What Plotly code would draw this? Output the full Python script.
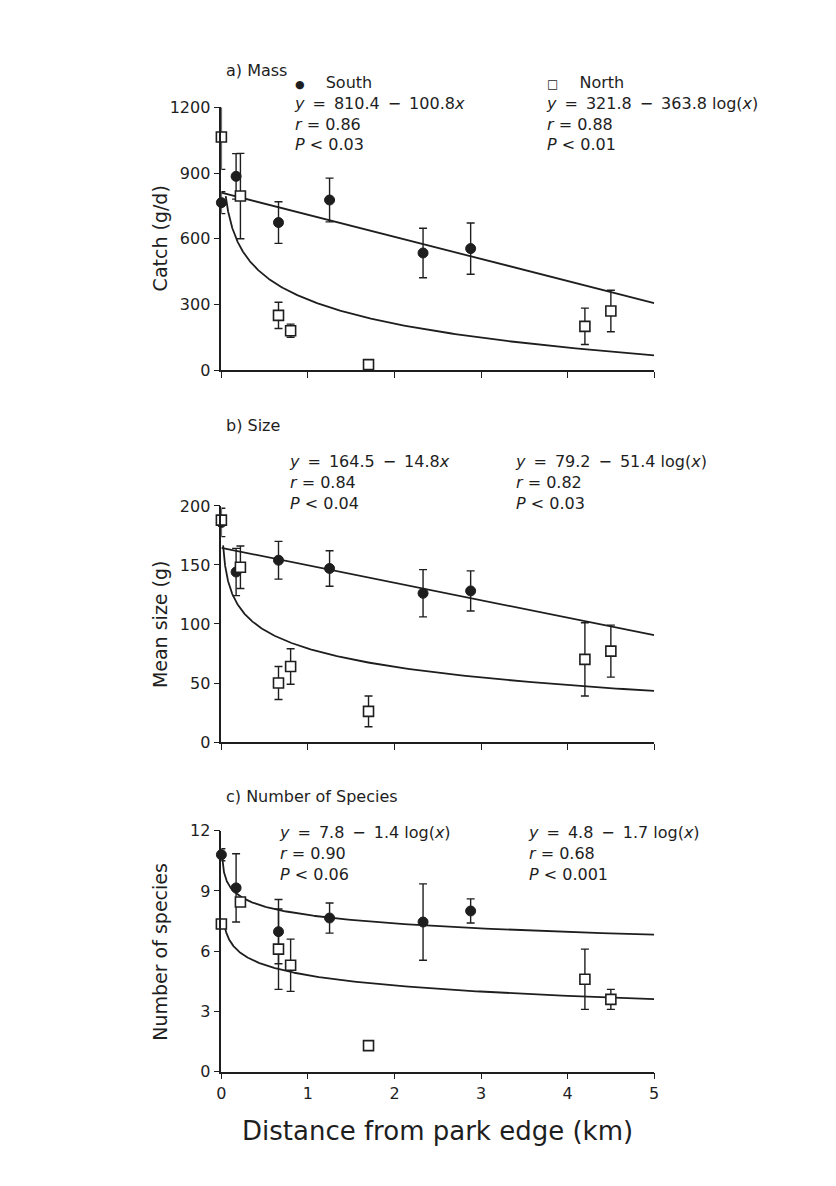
import numpy as np
import plotly.graph_objects as go

# ---- data -------------------------------------------------------------
south_x = [0.0, 0.17, 0.66, 1.25, 2.33, 2.88]
north_x = [0.0, 0.22, 0.66, 0.80, 1.70, 4.20, 4.50]

# a) Mass: catch (g/d)
mass_south = [765, 885, 674, 777, 535, 555]
mass_south_err = [50, 104, 95, 100, 113, 117]
mass_north = [1065, 795, 250, 180, 25, 200, 270]
mass_north_err = [148, 195, 60, 30, 0, 83, 95]

# b) Size: mean size (g)
size_south = [186, 144, 154, 147, 126, 128]
size_south_err = [12, 20, 16, 15, 20, 17]
size_north = [188, 148, 50, 64, 26, 70, 77]
size_north_err = [0, 18, 14, 15, 13, 31, 22]

# c) Number of species
spp_south = [10.8, 9.15, 6.97, 7.65, 7.45, 8.0]
spp_south_err = [0.3, 1.7, 1.6, 0.75, 1.9, 0.6]
spp_north = [7.35, 8.45, 6.1, 5.3, 1.3, 4.6, 3.6]
spp_north_err = [0, 0, 2.0, 1.3, 0, 1.5, 0.5]

# regression fits: (intercept, slope, form, first x of the drawn curve)
fit_mass_south = (810.4, -100.8, "lin", 0.0)
fit_mass_north = (321.8, -363.8, "log", 0.05)
fit_size_south = (164.5, -14.8, "lin", 0.0)
fit_size_north = (79.2, -51.4, "log", 0.02)
fit_spp_south = (7.8, -1.4, "log", 0.008)
fit_spp_north = (4.8, -1.7, "log", 0.03)

x_ticks = [0, 1, 2, 3, 4, 5]
mass_ticks = [0, 300, 600, 900, 1200]
size_ticks = [0, 50, 100, 150, 200]
spp_ticks = [0, 3, 6, 9, 12]

# ---- figure -----------------------------------------------------------
W, H = 836, 1186
FONT = "DejaVu Sans"
INK = "#1e1e1e"


def px(x):
    return x / W


def py(y):
    return 1 - y / H


def fit_curve(fit):
    a, b, form, x0 = fit
    if form == "lin":
        xs = np.linspace(x0, 5, 50)
        return xs, a + b * xs
    xs = np.geomspace(x0, 5, 300)
    return xs, a + b * np.log10(xs)


fig = go.Figure()

panels = [
    ("x", "y", mass_south, mass_south_err, mass_north, mass_north_err,
     fit_mass_south, fit_mass_north),
    ("x2", "y2", size_south, size_south_err, size_north, size_north_err,
     fit_size_south, fit_size_north),
    ("x3", "y3", spp_south, spp_south_err, spp_north, spp_north_err,
     fit_spp_south, fit_spp_north),
]

for xa, ya, s_y, s_e, n_y, n_e, f_s, f_n in panels:
    for fit in (f_s, f_n):
        fx, fy = fit_curve(fit)
        fig.add_trace(go.Scatter(
            x=fx, y=fy, mode="lines", xaxis=xa, yaxis=ya,
            line=dict(color=INK, width=1.8), showlegend=False,
            hoverinfo="skip", cliponaxis=False))
    fig.add_trace(go.Scatter(
        x=south_x, y=s_y, mode="markers", xaxis=xa, yaxis=ya,
        marker=dict(symbol="circle", size=10, color=INK,
                    line=dict(color=INK, width=1)),
        error_y=dict(type="data", array=s_e, visible=True, color=INK,
                     thickness=1.4, width=4),
        showlegend=False, cliponaxis=False))
    fig.add_trace(go.Scatter(
        x=north_x, y=n_y, mode="markers", xaxis=xa, yaxis=ya,
        marker=dict(symbol="square", size=10, color="white",
                    line=dict(color=INK, width=1.6)),
        error_y=dict(type="data", array=n_e, visible=True, color=INK,
                     thickness=1.4, width=4),
        showlegend=False, cliponaxis=False))

x_dom = [px(219), px(657)]
axis_style = dict(showline=True, linecolor=INK, linewidth=1.6,
                  ticks="outside", ticklen=6, tickwidth=1.4, tickcolor=INK,
                  showgrid=False, zeroline=False,
                  tickfont=dict(family=FONT, size=16, color=INK))

fig.update_layout(
    width=W, height=H, autosize=False,
    margin=dict(l=0, r=0, t=0, b=0),
    paper_bgcolor="white", plot_bgcolor="rgba(0,0,0,0)",
    font=dict(family=FONT, color=INK),
    xaxis=dict(domain=x_dom, range=[0, 5], tickvals=x_ticks,
               showticklabels=False, anchor="y", **axis_style),
    yaxis=dict(domain=[py(367), py(100)], range=[0, 1200],
               tickvals=mass_ticks, anchor="x", **axis_style),
    xaxis2=dict(domain=x_dom, range=[0, 5], tickvals=x_ticks,
                showticklabels=False, anchor="y2", **axis_style),
    yaxis2=dict(domain=[py(745), py(505)], range=[0, 200],
                tickvals=size_ticks, anchor="x2", **axis_style),
    xaxis3=dict(domain=x_dom, range=[0, 5], tickvals=x_ticks,
                anchor="y3", **axis_style),
    yaxis3=dict(domain=[py(1080), py(835)], range=[0, 12],
                tickvals=spp_ticks, anchor="x3", **axis_style),
)

SP = "\u2002"  # en space for the wider maths spacing
DOT = "<span style='font-size:11px'>●</span>"
BOX = "<span style='font-size:12px'>□</span>"


def eq(intercept, slope_term):
    return f"<i>y</i>{SP}={SP}{intercept}{SP}−{SP}{slope_term}"


blocks = [
    # (left x, centre y, lines)
    (290, 106, [f"{DOT}\u2003 South", eq("810.4", "100.8<i>x</i>"),
                "<i>r</i> = 0.86", "<i>P</i> &lt; 0.03"]),
    (546, 106, [f"{BOX}\u2003 North", eq("321.8", "363.8 log(<i>x</i>)"),
                "<i>r</i> = 0.88", "<i>P</i> &lt; 0.01"]),
    (285, 481, [eq("164.5", "14.8<i>x</i>"),
                "<i>r</i> = 0.84", "<i>P</i> &lt; 0.04"]),
    (514, 481, [eq("79.2", "51.4 log(<i>x</i>)"),
                "<i>r</i> = 0.82", "<i>P</i> &lt; 0.03"]),
    (275, 858, [eq("7.8", "1.4 log(<i>x</i>)"),
                "<i>r</i> = 0.90", "<i>P</i> &lt; 0.06"]),
    (527, 858, [eq("4.8", "1.7 log(<i>x</i>)"),
                "<i>r</i> = 0.68", "<i>P</i> &lt; 0.001"]),
]

for x, y, lines in blocks:
    fig.add_annotation(x=px(x), y=py(y), xref="paper", yref="paper",
                       text="<br>".join(lines), showarrow=False,
                       xanchor="left", yanchor="middle", align="left",
                       font=dict(family=FONT, size=16, color=INK))

# panel titles
for yc, text in [(62, "a) Mass"), (423, "b) Size"),
                 (800, "c) Number of Species")]:
    fig.add_annotation(x=px(222), y=py(yc), xref="paper", yref="paper",
                       text=text, showarrow=False, xanchor="left",
                       yanchor="middle",
                       font=dict(family=FONT, size=16, color=INK))

# axis titles
for yc, text in [(233, "Catch (g/d)"), (625, "Mean size (g)"),
                 (958, "Number of species")]:
    fig.add_annotation(x=px(157), y=py(yc), xref="paper", yref="paper",
                       text=text, textangle=-90, showarrow=False,
                       xanchor="center", yanchor="middle",
                       font=dict(family=FONT, size=19, color=INK))

fig.add_annotation(x=px(438), y=py(1140), xref="paper", yref="paper",
                   text="Distance from park edge (km)", showarrow=False,
                   xanchor="center", yanchor="middle",
                   font=dict(family=FONT, size=26, color=INK))

fig.write_html("out.html")
